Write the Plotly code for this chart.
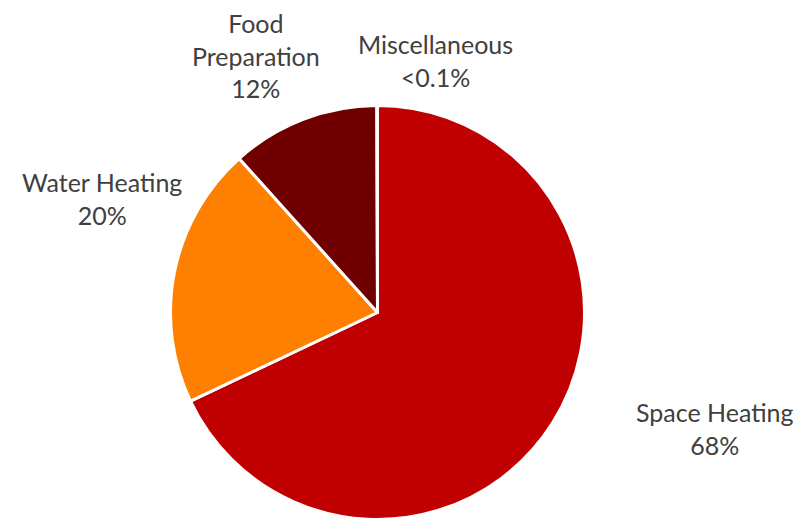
import plotly.graph_objects as go

# Datos del gráfico
categorias = ["Space Heating", "Water Heating", "Food Preparation", "Miscellaneous"]
valores = [67.95, 20.4, 11.6, 0.05]
etiquetas_pct = ["68%", "20%", "12%", "<0.1%"]
colores = ["#C00000", "#FF8000", "#700000", "#A6A6A6"]

# Posición de cada etiqueta (centro, en pixeles) y texto partido en líneas
posiciones = {
    "Space Heating": (707, 420),
    "Water Heating": (94, 190),
    "Food Preparation": (248, 48),
    "Miscellaneous": (428, 52),
}
lineas = {
    "Food Preparation": "Food<br>Preparation",
}

W, H = 805, 523

# centro y radio del pie (pixeles), ajustados a ojo
cx, cy, r = 369.5, 304.5, 207

fig = go.Figure(go.Pie(
    labels=categorias,
    values=valores,
    sort=False,
    direction="clockwise",
    rotation=0,
    marker=dict(colors=colores, line=dict(color="white", width=3)),
    textinfo="none",
    hoverinfo="label+percent",
    domain=dict(x=[(cx - r) / W, (cx + r) / W],
                y=[1 - (cy + r) / H, 1 - (cy - r) / H]),
))

anotaciones = []
for cat, pct in zip(categorias, etiquetas_pct):
    px, py = posiciones[cat]
    texto = lineas.get(cat, cat) + "<br>" + pct
    anotaciones.append(dict(
        x=px / W, y=1 - py / H, xref="paper", yref="paper",
        text=texto, showarrow=False, xanchor="center", yanchor="middle",
        align="center",
        font=dict(family="Lato, Open Sans, sans-serif", size=25, color="#404040"),
    ))

fig.update_layout(
    width=W, height=H,
    margin=dict(l=0, r=0, t=0, b=0),
    paper_bgcolor="white",
    plot_bgcolor="white",
    showlegend=False,
    annotations=anotaciones,
)

fig.write_html("out.html")
